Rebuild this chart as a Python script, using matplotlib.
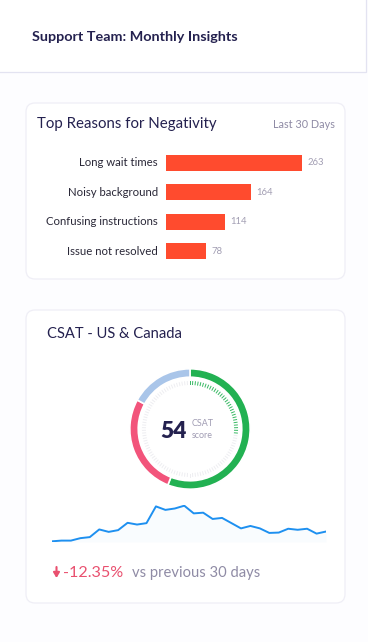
import numpy as np
import matplotlib.pyplot as plt
from matplotlib.patches import FancyBboxPatch

plt.rcParams['font.family'] = ['Lato', 'DejaVu Sans']

# Top reasons for negativity (last 30 days)
reasons = ["Long wait times", "Noisy background", "Confusing instructions", "Issue not resolved"]
reason_counts = [263, 164, 114, 78]

# CSAT split: promoters, detractors, passives
csat_labels = ["Satisfied", "Dissatisfied", "Neutral"]
csat_shares = [56, 27, 17]
csat_score = 54

# daily CSAT trend over the last 30 days
trend = [8, 10, 10, 17, 20, 42, 35, 40, 61, 56, 60, 108, 98, 102, 110,
         88, 90, 72, 75, 60, 45, 52, 45, 32, 33, 44, 41, 44, 30, 36]
change_pct = -12.35

W, H = 368, 642
NAVY = "#24214f"
GRAY = "#8f8ba5"
PINK = "#e9506f"

fig = plt.figure(figsize=(W / 100, H / 100), dpi=100)
fig.patch.set_facecolor("#fdfdff")

# background canvas in pixel coordinates
bg = fig.add_axes([0, 0, 1, 1])
bg.set_xlim(0, W)
bg.set_ylim(H, 0)
bg.axis("off")


def card(x0, y0, x1, y1):
    bg.add_patch(FancyBboxPatch((x0, y0), x1 - x0, y1 - y0,
                                boxstyle="round,pad=0,rounding_size=9",
                                fc="white", ec="#efeef6", lw=0.9))


# header
bg.add_patch(plt.Rectangle((-2, -2), 368, 74, fc="white", ec="#e3e3f1", lw=0.9))
bg.text(32, 37, "Support Team: Monthly Insights", fontsize=10.4, fontweight="bold",
        color=NAVY, va="center")

# card 1 - reasons
card(26, 103, 345, 279)
bg.text(37, 124, "Top Reasons for Negativity", fontsize=10.8, color=NAVY, va="center")
bg.text(335, 125, "Last 30 Days", fontsize=7.8, color=GRAY, va="center", ha="right")


def px_axes(x0, y0, x1, y1):
    return fig.add_axes([x0 / W, 1 - y1 / H, (x1 - x0) / W, (y1 - y0) / H])


bax = px_axes(166, 148, 302, 266)
ypos = np.arange(len(reasons))
bax.barh(ypos, reason_counts, height=0.55, color="#ff4b2e")
bax.set_xlim(0, max(reason_counts))
bax.set_ylim(len(reasons) - 0.5, -0.5)
bax.axis("off")
for i, (lab, v) in enumerate(zip(reasons, reason_counts)):
    bax.annotate(lab, (0, i), xytext=(-6, 0), textcoords="offset points",
                 ha="right", va="center", fontsize=8.2, color="#2a2838",
                 annotation_clip=False)
    bax.annotate(str(v), (v, i), xytext=(4, 0), textcoords="offset points",
                 ha="left", va="center", fontsize=6.8, color="#a29eb3",
                 annotation_clip=False)

# card 2 - CSAT
card(26, 310, 345, 603)
bg.text(47, 334, "CSAT - US & Canada", fontsize=10.6, color=NAVY, va="center")

dax = px_axes(128, 367, 252, 491)
dax.pie(csat_shares, colors=["#22b152", "#f2547b", "#a9c5e9"], startangle=90,
        counterclock=False, radius=1,
        wedgeprops=dict(width=0.14, edgecolor="white", linewidth=1.2))
# inner dial ticks
ang = np.linspace(0, 2 * np.pi, 110, endpoint=False)
for a in ang:
    green = a < np.radians(95)
    dax.plot([0.74 * np.sin(a), 0.79 * np.sin(a)], [0.74 * np.cos(a), 0.79 * np.cos(a)],
             color="#22b152" if green else "#e2e2e8", lw=0.7,
             alpha=0.9 if green else 0.6)
dax.set_xlim(-1.03, 1.03)
dax.set_ylim(-1.03, 1.03)
dax.set_aspect("equal")
dax.axis("off")

bg.text(187, 431, str(csat_score), fontsize=16.5, fontweight="heavy", color=NAVY,
        va="center", ha="right")
bg.text(192, 424, "CSAT", fontsize=6.4, color="#a09cb3", va="center")
bg.text(192, 435, "score", fontsize=6.4, color="#a09cb3", va="center")

# sparkline
sax = px_axes(52, 505, 326, 542)
days = np.arange(len(trend))
sax.plot(days, trend, color="#1e90f0", lw=1.4)
sax.fill_between(days, trend, min(trend) - 2, color="#1e90f0", alpha=0.025, lw=0)
sax.set_xlim(0, len(trend) - 1)
sax.set_ylim(min(trend) - 2, max(trend) + 2)
sax.axis("off")

bg.annotate("", xy=(56.5, 578), xytext=(56.5, 567),
            arrowprops=dict(arrowstyle="-|>,head_width=0.18,head_length=0.3",
                            color=PINK, lw=1.5, shrinkA=0, shrinkB=0))
bg.text(63, 573, f"{change_pct:.2f}%", fontsize=11.6, color=PINK, va="center")
bg.text(132, 573, "vs previous 30 days", fontsize=10.6, color=GRAY, va="center")

fig.savefig("out.png", dpi=100, facecolor=fig.get_facecolor())
